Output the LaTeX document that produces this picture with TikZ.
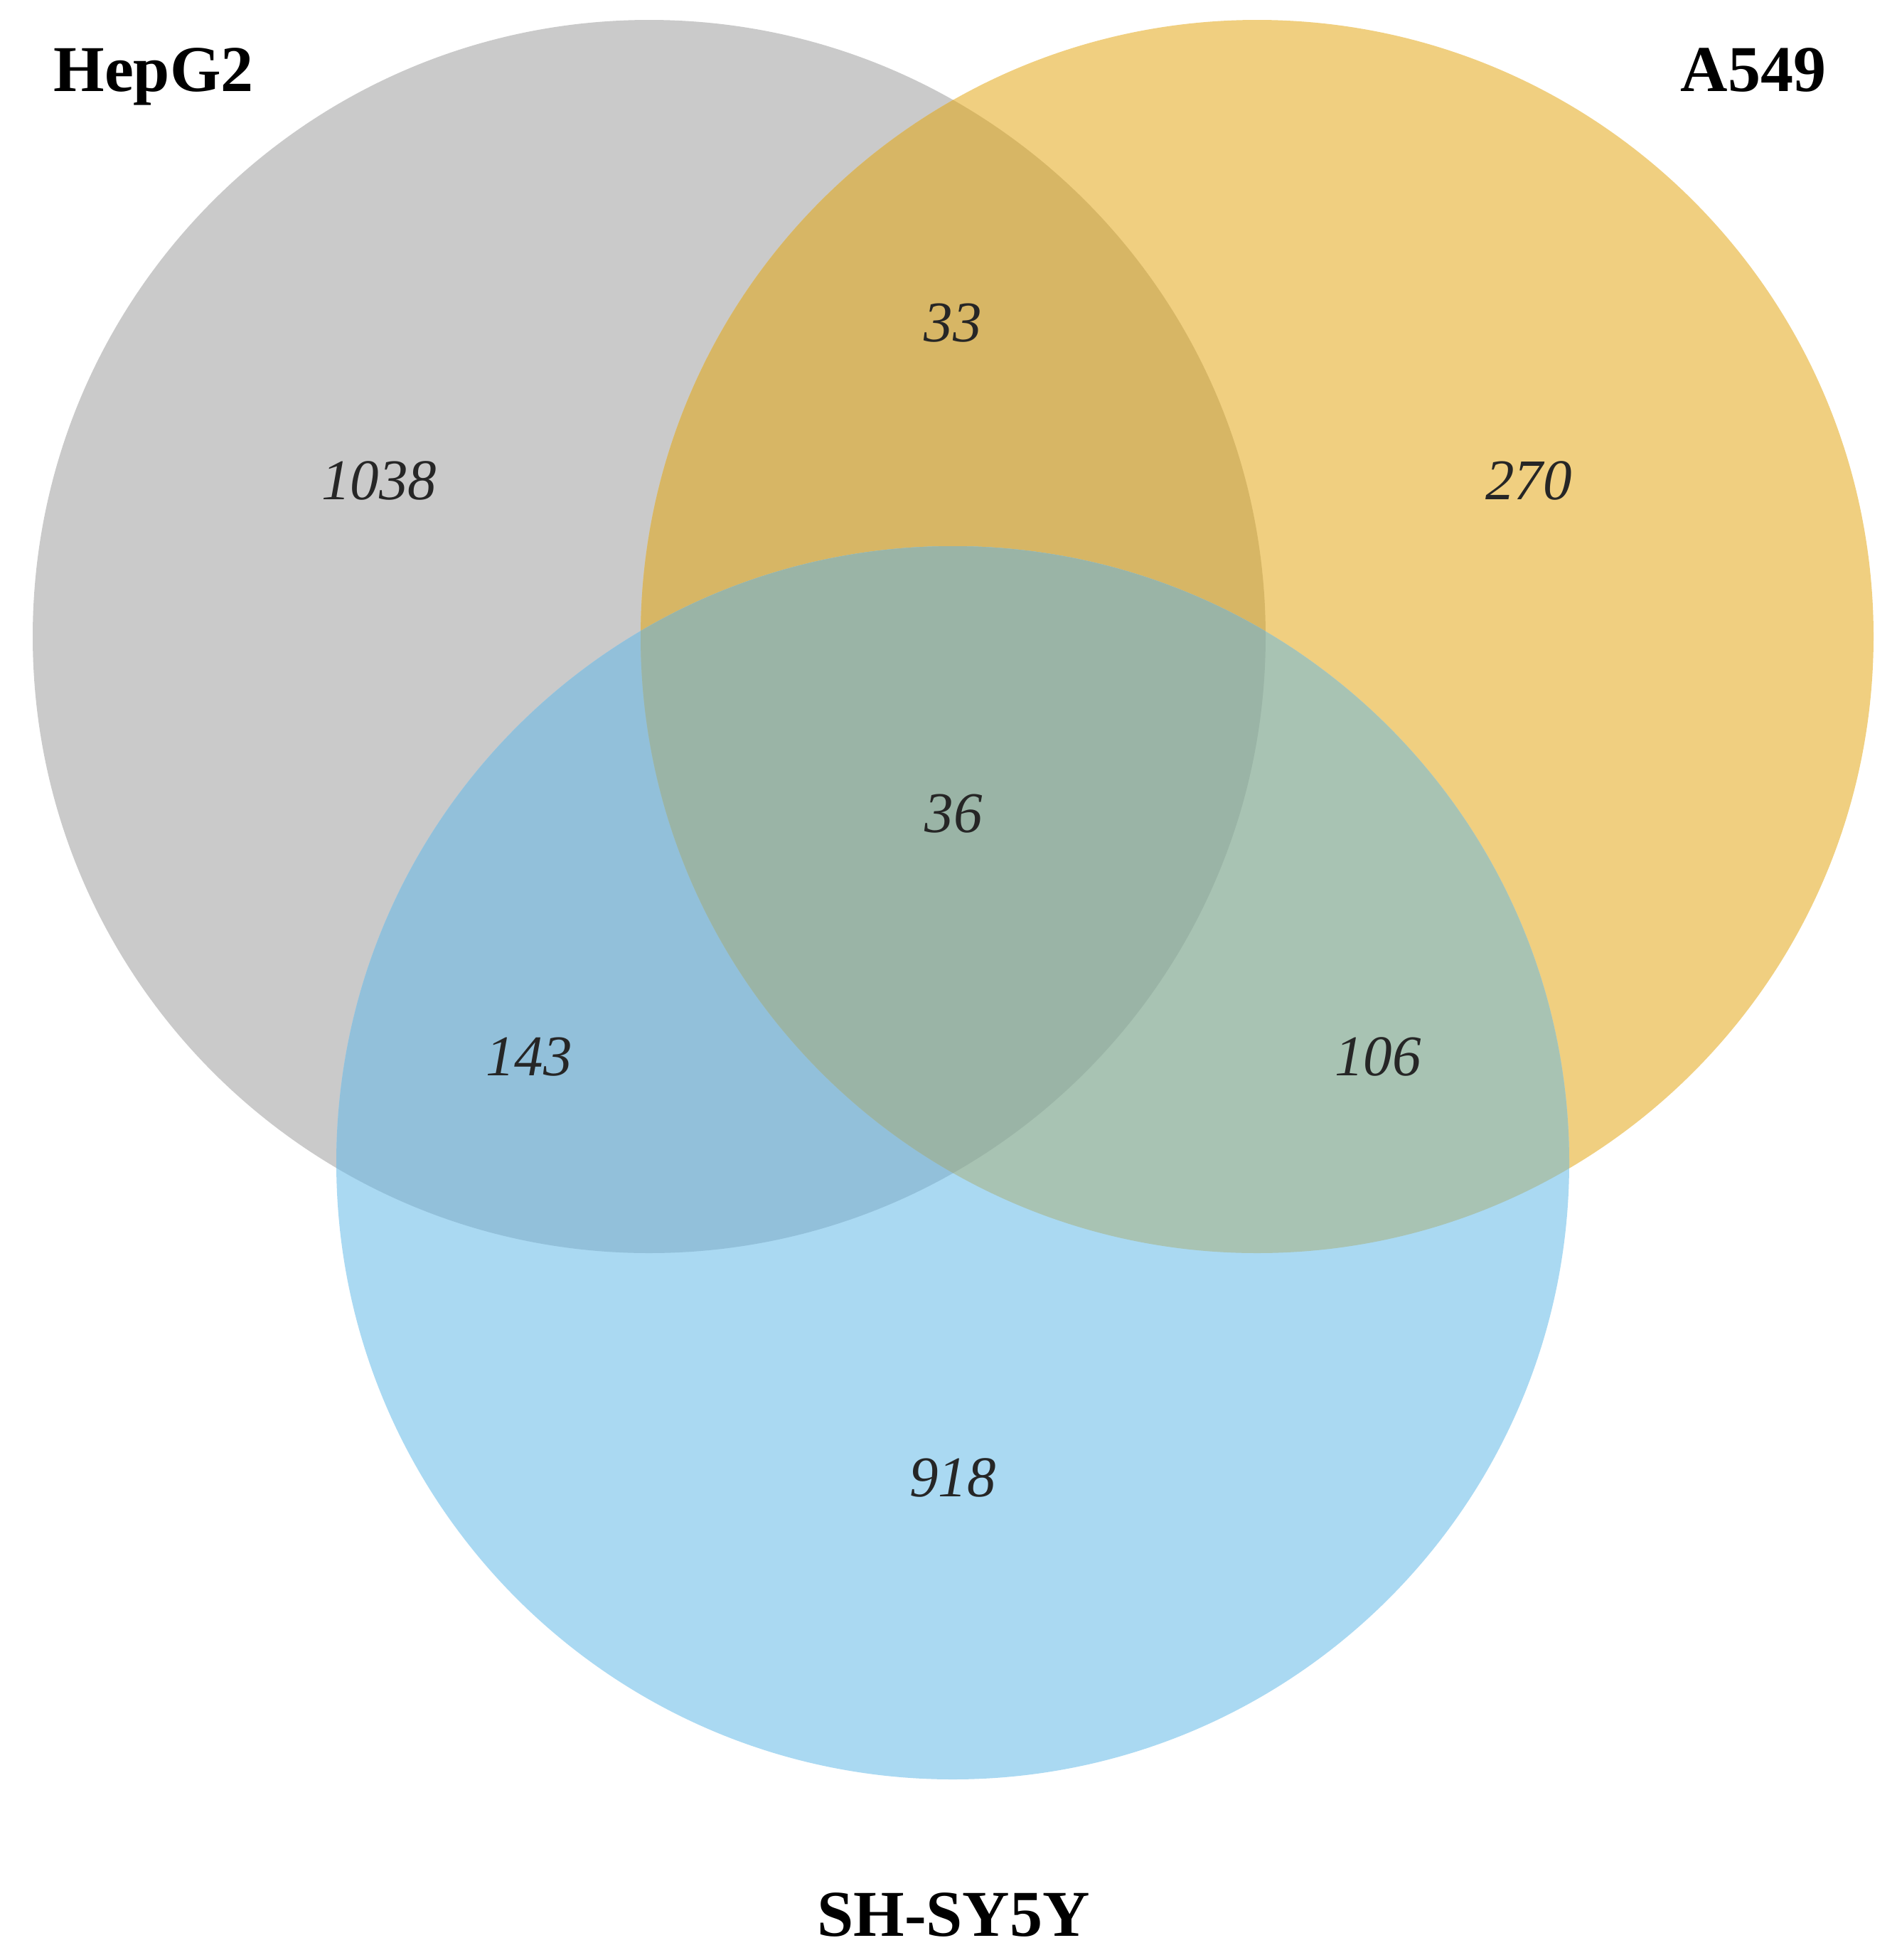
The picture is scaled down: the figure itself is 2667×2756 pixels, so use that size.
\documentclass[tikz,border=0pt]{standalone}
\usepackage{fontspec}
\setmainfont{Liberation Serif}
\definecolor{cG}{HTML}{CACACA}
\definecolor{cO}{HTML}{F0CF80}
\definecolor{cB}{HTML}{AAD9F2}
\definecolor{cGO}{HTML}{D7B665}
\definecolor{cGB}{HTML}{92C0DA}
\definecolor{cOB}{HTML}{A8C3B3}
\definecolor{cGOB}{HTML}{9AB4A6}
\begin{document}
\begin{tikzpicture}[x=0.3pt,y=-0.3pt,
  setlabel/.style={font=\fontsize{27.6}{30}\selectfont\bfseries, inner sep=0pt, anchor=base, text=black},
  num/.style={font=\fontsize{24.3}{28}\selectfont\itshape, inner sep=0pt, anchor=base, text=black!85}]
\useasboundingbox (0,0) rectangle (2667,2756);
\def\cgray{(913,895) circle[radius=260.1pt]}
\def\corange{(1768,895) circle[radius=260.1pt]}
\def\cblue{(1340,1635) circle[radius=260.1pt]}
\fill[cG] \cgray;
\fill[cO] \corange;
\begin{scope}\clip \cgray; \fill[cGO] \corange; \end{scope}
\fill[cB] \cblue;
\begin{scope}\clip \cgray; \fill[cGB] \cblue; \end{scope}
\begin{scope}\clip \corange; \fill[cOB] \cblue; \end{scope}
\begin{scope}\clip \cgray; \clip \corange; \fill[cGOB] \cblue; \end{scope}
\node[setlabel] (hep) at (216,128) {HepG2};
\node[setlabel] (a549) at (2466,128) {A549};
\node[setlabel] (shsy) at (1341,2722) {SH-SY5Y};
\node[num] (n1038) at (533,702) {1038};
\node[num] (n33) at (1340,480) {33};
\node[num] (n270) at (2150,702) {270};
\node[num] (n36) at (1341,1170) {36};
\node[num] (n143) at (744,1512) {143};
\node[num] (n106) at (1938,1512) {106};
\node[num] (n918) at (1340,2104) {918};
\end{tikzpicture}
\end{document}
